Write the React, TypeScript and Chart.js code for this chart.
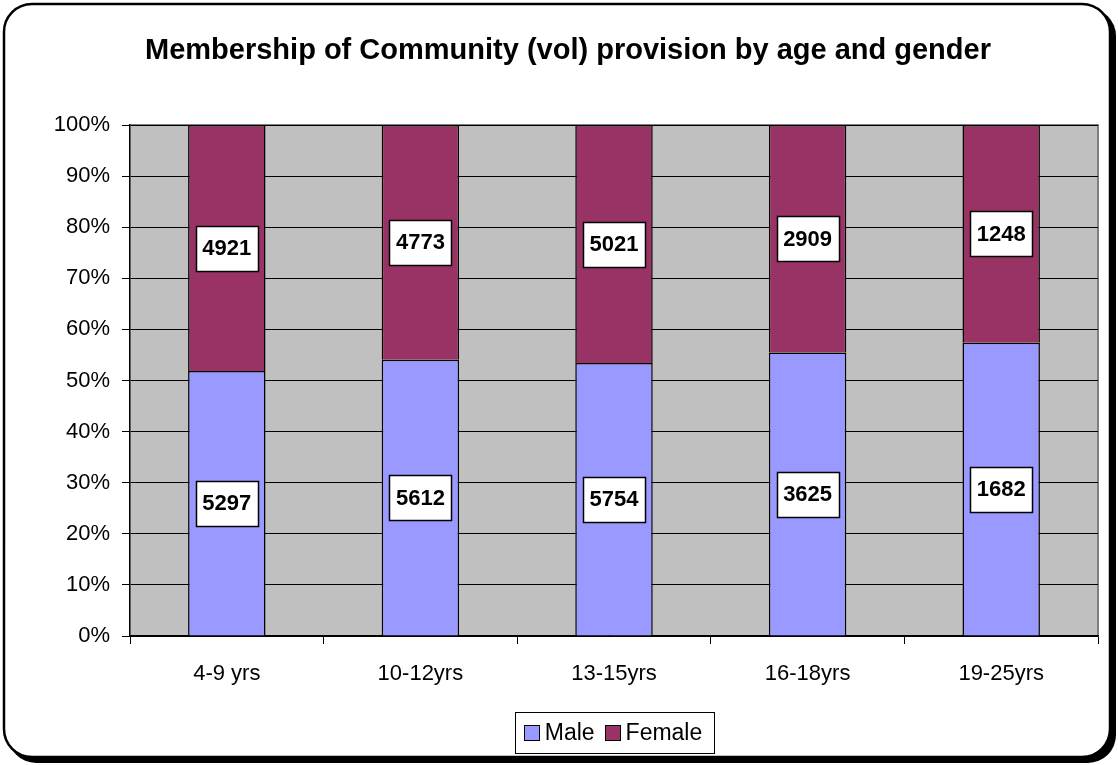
import React, { useEffect, useRef } from "react";
import { Chart, registerables } from "chart.js";

Chart.register(...registerables);

const TITLE = "Membership of Community (vol) provision by age and gender";
const categories = ["4-9 yrs", "10-12yrs", "13-15yrs", "16-18yrs", "19-25yrs"];
const maleCounts = [5297, 5612, 5754, 3625, 1682];
const femaleCounts = [4921, 4773, 5021, 2909, 1248];
const seriesNames = ["Male", "Female"];
const seriesColors = ["#9999FF", "#993366"];

const malePct = maleCounts.map((m, i) => (m / (m + femaleCounts[i])) * 100);
const femalePct = femaleCounts.map((f, i) => (f / (maleCounts[i] + f)) * 100);
const rawCounts = [maleCounts, femaleCounts];

const FONT = "'Liberation Sans', Arial, sans-serif";

const framePlugin = {
  id: "frame",
  beforeDraw(chart: any) {
    const ctx = chart.ctx;
    const W = chart.width;
    const H = chart.height;
    ctx.save();
    ctx.fillStyle = "#ffffff";
    ctx.fillRect(0, 0, W, H);
    // shadow
    ctx.fillStyle = "#000000";
    ctx.beginPath();
    ctx.roundRect(8, 8, 1108, 755, 28);
    ctx.fill();
    // frame
    ctx.fillStyle = "#ffffff";
    ctx.strokeStyle = "#000000";
    ctx.lineWidth = 2.5;
    ctx.beginPath();
    ctx.roundRect(4, 4, 1106, 753, 28);
    ctx.fill();
    ctx.stroke();
    // plot background
    const a = chart.chartArea;
    ctx.fillStyle = "#C0C0C0";
    ctx.fillRect(a.left, a.top, a.right - a.left, a.bottom - a.top);
    ctx.strokeStyle = "#808080";
    ctx.lineWidth = 2;
    ctx.beginPath();
    ctx.moveTo(a.left, a.top);
    ctx.lineTo(a.right, a.top);
    ctx.lineTo(a.right, a.bottom);
    ctx.stroke();
    // title
    ctx.fillStyle = "#000000";
    ctx.font = `bold 29px ${FONT}`;
    ctx.textAlign = "center";
    ctx.textBaseline = "middle";
    ctx.fillText(TITLE, 568, 51);
    ctx.restore();
  },
  afterDraw(chart: any) {
    const ctx = chart.ctx;
    const a = chart.chartArea;
    ctx.save();
    // legend
    ctx.font = `23px ${FONT}`;
    const sq = 15;
    const padL = 9;
    const gap = 6;
    const itemGap = 10;
    const padR = 11;
    const widths = seriesNames.map((n) => ctx.measureText(n).width);
    let total = padL + padR;
    widths.forEach((w, i) => {
      total += sq + gap + w + (i < widths.length - 1 ? itemGap : 0);
    });
    const cx = (a.left + a.right) / 2;
    const left = cx - total / 2;
    const top = 712;
    const h = 41;
    ctx.fillStyle = "#ffffff";
    ctx.fillRect(left, top, total, h);
    ctx.strokeStyle = "#000000";
    ctx.lineWidth = 1;
    ctx.strokeRect(Math.round(left) + 0.5, top + 0.5, Math.round(total), h);
    let x = left + padL;
    const cy = top + h / 2;
    seriesNames.forEach((n, i) => {
      ctx.fillStyle = seriesColors[i];
      ctx.fillRect(Math.round(x) + 0.5, Math.round(cy - sq / 2) + 0.5, sq, sq);
      ctx.strokeRect(Math.round(x) + 0.5, Math.round(cy - sq / 2) + 0.5, sq, sq);
      x += sq + gap;
      ctx.fillStyle = "#000000";
      ctx.textAlign = "left";
      ctx.textBaseline = "middle";
      ctx.fillText(n, x, cy + 1);
      x += widths[i] + itemGap;
    });
    ctx.restore();
  },
  afterDatasetsDraw(chart: any) {
    const ctx = chart.ctx;
    ctx.save();
    ctx.font = `bold 22px ${FONT}`;
    ctx.textAlign = "center";
    ctx.textBaseline = "middle";
    chart.data.datasets.forEach((ds: any, di: number) => {
      const meta = chart.getDatasetMeta(di);
      meta.data.forEach((bar: any, i: number) => {
        const label = String(rawCounts[di][i]);
        const w = ctx.measureText(label).width + 13;
        const h = 45;
        const x = bar.x;
        const y = (bar.y + bar.base) / 2;
        const bx = Math.round(x - w / 2) + 0.5;
        const by = Math.round(y - h / 2) + 0.5;
        ctx.fillStyle = "#ffffff";
        ctx.fillRect(bx, by, Math.round(w), h);
        ctx.strokeStyle = "#000000";
        ctx.lineWidth = 1.5;
        ctx.strokeRect(bx, by, Math.round(w), h);
        ctx.fillStyle = "#000000";
        ctx.fillText(label, x, y + 1);
      });
    });
    ctx.restore();
  },
};

export default function App() {
  const ref = useRef<HTMLCanvasElement>(null);
  useEffect(() => {
    if (!ref.current) return;
    const chart = new Chart(ref.current, {
      type: "bar",
      data: {
        labels: categories,
        datasets: [
          {
            label: seriesNames[0],
            data: malePct,
            backgroundColor: seriesColors[0],
            borderColor: "#000000",
            borderWidth: 1.5,
            barPercentage: 0.4,
            categoryPercentage: 1,
          },
          {
            label: seriesNames[1],
            data: femalePct,
            backgroundColor: seriesColors[1],
            borderColor: "#000000",
            borderWidth: 1.5,
            barPercentage: 0.4,
            categoryPercentage: 1,
          },
        ],
      },
      options: {
        responsive: false,
        animation: false,
        layout: { padding: { top: 125, right: 20, left: 0, bottom: 0 } },
        plugins: {
          legend: { display: false },
          title: { display: false },
          tooltip: { enabled: false },
        },
        scales: {
          x: {
            stacked: true,
            afterFit: (s: any) => {
              s.height = 129;
            },
            grid: {
              offset: true,
              drawOnChartArea: false,
              drawTicks: true,
              tickLength: 8,
              color: "#000000",
            },
            border: { display: true, color: "#000000", width: 1.5 },
            ticks: {
              color: "#000000",
              font: { family: FONT, size: 22 },
              padding: 17,
              maxRotation: 0,
            },
          },
          y: {
            stacked: true,
            min: 0,
            max: 100,
            afterFit: (s: any) => {
              s.width = 130;
            },
            grid: {
              color: "#000000",
              lineWidth: 1,
              drawTicks: true,
              tickLength: 8,
            },
            border: { display: true, color: "#000000", width: 1.5 },
            ticks: {
              stepSize: 10,
              color: "#000000",
              font: { family: FONT, size: 22 },
              padding: 12,
              callback: (v: any) => v + "%",
            },
          },
        },
      },
      plugins: [framePlugin],
    });
    return () => chart.destroy();
  }, []);
  return (
    <div style={{ position: "fixed", left: 0, top: 0, width: 1118, height: 765 }}>
      <canvas ref={ref} width={1118} height={765} />
    </div>
  );
}
